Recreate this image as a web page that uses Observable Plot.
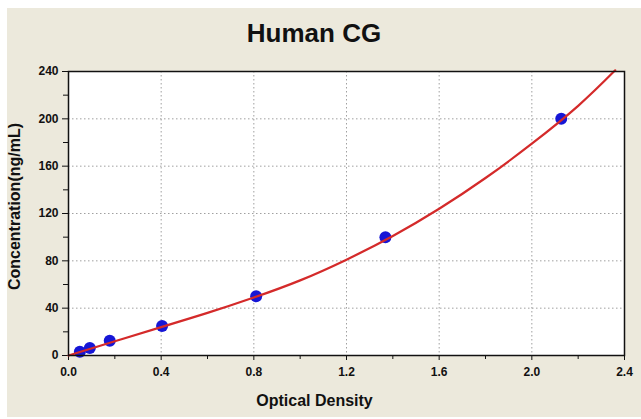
<!DOCTYPE html>
<html>
<head>
<meta charset="utf-8">
<script src="https://cdn.jsdelivr.net/npm/d3@7"></script>
<script src="https://cdn.jsdelivr.net/npm/@observablehq/plot@0.6"></script>
<style>
  html, body { margin: 0; padding: 0; background: #ffffff; }
  #panel { position: absolute; left: 7px; top: 8px; width: 634px; height: 409px; background: #ece9dc; }
  #title { height: 44px; box-sizing: border-box; padding-top: 12px; padding-right: 20px; text-align: center;
           font: bold 26px "Liberation Sans", Arial, sans-serif; line-height: 1; color: #111; }
</style>
</head>
<body>
<div id="panel"><div id="title">Human CG</div><div id="chart"></div></div>
<script>
// Standards (optical density vs concentration)
const odValues   = [0.049, 0.092, 0.178, 0.404, 0.81, 1.368, 2.127];
const concValues = [3.125, 6.25, 12.5, 25, 50, 100, 200];
// Fitted curve
const curveOD   = [0, 0.2, 0.4, 0.6, 0.8, 1.0, 1.2, 1.4, 1.6, 1.8, 2.0, 2.2, 2.36];
const curveConc = [0, 12, 24, 36, 49, 63.5, 81, 101, 124, 150, 179, 211, 241];
// Ticks
const xTicks = [0, 0.4, 0.8, 1.2, 1.6, 2.0, 2.4];
const xMinor = [0.2, 0.6, 1.0, 1.4, 1.8, 2.2];
const yTicks = [0, 40, 80, 120, 160, 200, 240];
const yMinor = [20, 60, 100, 140, 180, 220];
const xLabel = "Optical Density";
const yLabel = "Concentration(ng/mL)";

const ptIdx = d3.range(odValues.length);
const cvIdx = d3.range(curveOD.length);

const chart = Plot.plot({
  width: 634,
  height: 365,
  marginTop: 19,
  marginBottom: 62,
  marginLeft: 61,
  marginRight: 17,
  style: { fontFamily: "'Liberation Sans', Arial, sans-serif", fontSize: "12px", fontWeight: "bold", color: "#111", background: "transparent" },
  x: { domain: [0, 2.4] },
  y: { domain: [0, 240] },
  marks: [
    Plot.frame({ fill: "white", stroke: "none" }),
    Plot.gridX(xTicks, { stroke: "#888", strokeOpacity: 1, strokeDasharray: "1.5,2.5", strokeWidth: 0.8 }),
    Plot.gridY(yTicks, { stroke: "#888", strokeOpacity: 1, strokeDasharray: "1.5,2.5", strokeWidth: 0.8 }),
    Plot.axisX(xMinor, { tickSize: 4, text: null, label: null, stroke: "#111" }),
    Plot.axisY(yMinor, { tickSize: 5, text: null, label: null, stroke: "#111" }),
    Plot.axisX(xTicks, { tickSize: 5, tickPadding: 7, tickFormat: d3.format(".1f"), stroke: "#111", label: null }),
    Plot.axisY(yTicks, { tickSize: 6, tickPadding: 4, stroke: "#111", label: null }),
    Plot.text([xLabel], { frameAnchor: "bottom", text: d => d, dx: -32, dy: 45, textAnchor: "middle", lineAnchor: "middle",
      fontSize: 16, fontWeight: "bold", fill: "#111", style: "letter-spacing:0.5px" }),
    Plot.text([yLabel], { frameAnchor: "left", text: d => d, rotate: -90, dx: -54, dy: -7, textAnchor: "middle", lineAnchor: "middle",
      fontSize: 16, fontWeight: "bold", fill: "#111" }),
    Plot.dot(ptIdx, { x: i => odValues[i], y: i => concValues[i], r: 6, fill: "#1616d6", stroke: "none" }),
    Plot.line(cvIdx, { x: i => curveOD[i], y: i => curveConc[i], stroke: "#d42a2a", strokeWidth: 2.2, curve: "natural", clip: false }),
    Plot.frame({ stroke: "#111", strokeWidth: 1.5 })
  ]
});
document.getElementById("chart").appendChild(chart);
</script>
</body>
</html>
